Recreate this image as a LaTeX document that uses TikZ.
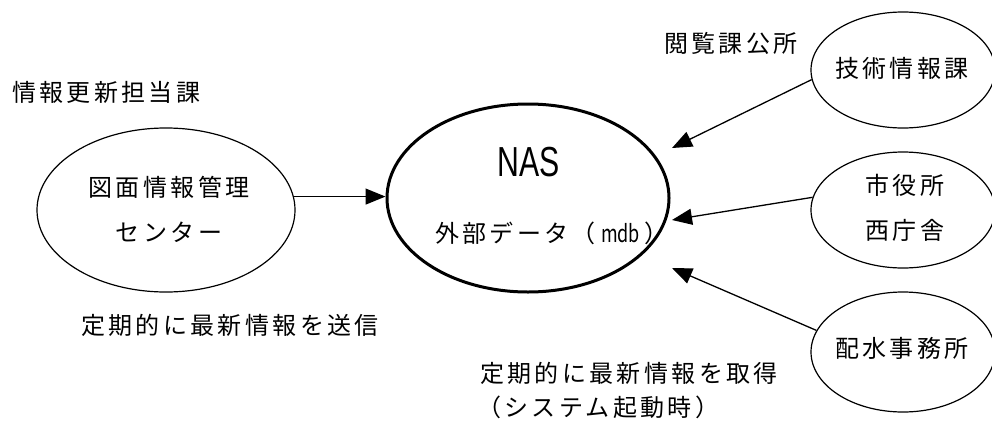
\documentclass[tikz,border=0pt]{standalone}
\usepackage{fontspec}
\usetikzlibrary{shapes.geometric,arrows.meta}
\newfontfamily\jp[LetterSpace=14]{Noto Sans CJK JP}
\newfontfamily\jpn{Noto Sans CJK JP}
\newfontfamily\lsans{Liberation Sans}
\tikzset{
  oval/.style={ellipse, draw, line width=1.2pt, inner sep=0pt},
  lbl/.style={font=\jp\fontsize{24}{24}\selectfont, inner sep=0pt, anchor=west},
  arr/.style={line width=1.3pt, -{Triangle[length=20pt,width=16pt]}},
}
\begin{document}
\begin{tikzpicture}[x=1pt,y=-1pt]
\useasboundingbox (0,0) rectangle (992,431);
% ellipses
\node[oval, minimum width=258pt, minimum height=164pt] (zu) at (166,210) {};
\node[lbl, anchor=center] (zu1) at (169,187) {図面情報管理};
\node[lbl, anchor=center] (zu2) at (169,232) {センター};
\node[oval, line width=3pt, minimum width=282pt, minimum height=188pt] (nas) at (528,198) {};
\node[inner sep=0pt, font=\lsans\fontsize{42}{42}\selectfont] (nast) at (529,162) {\scalebox{0.72}[1]{NAS}};
\node[lbl] (ext) at (435,233) {外部データ（\hspace{5pt}\scalebox{0.75}[1]{\jpn mdb}\hspace{5pt}）};
\node[oval, minimum width=184pt, minimum height=116pt] (tk) at (903,70) {};
\node[lbl] (tkt) at (835,68) {技術情報課};
\node[oval, minimum width=184pt, minimum height=116pt] (sy) at (903,210) {};
\node[lbl, anchor=center] (sy1) at (905,185) {市役所};
\node[lbl, anchor=center] (sy2) at (905,230) {西庁舎};
\node[oval, minimum width=184pt, minimum height=120pt] (hs) at (903,352) {};
\node[lbl] (hst) at (835,348) {配水事務所};
% free texts
\node[lbl] (t1) at (12,92) {情報更新担当課};
\node[lbl] (t2) at (81,325) {定期的に最新情報を送信};
\node[lbl] (t3) at (664,43) {閲覧課公所};
\node[lbl] (t4) at (480,373) {定期的に最新情報を取得};
\node[lbl] (t5) at (477,407) {（システム起動時）};
% arrow tips
\coordinate (pa) at (672,148);
\coordinate (pb) at (672,220);
\coordinate (pc) at (672,268);
\draw[arr] (zu.6) -- (zu.6 -| nas.west);
\draw[arr] (tk.186) -- (pa);
\draw[arr] (sy.172) -- (pb);
\draw[arr] (hs.166) -- (pc);
\end{tikzpicture}
\end{document}
